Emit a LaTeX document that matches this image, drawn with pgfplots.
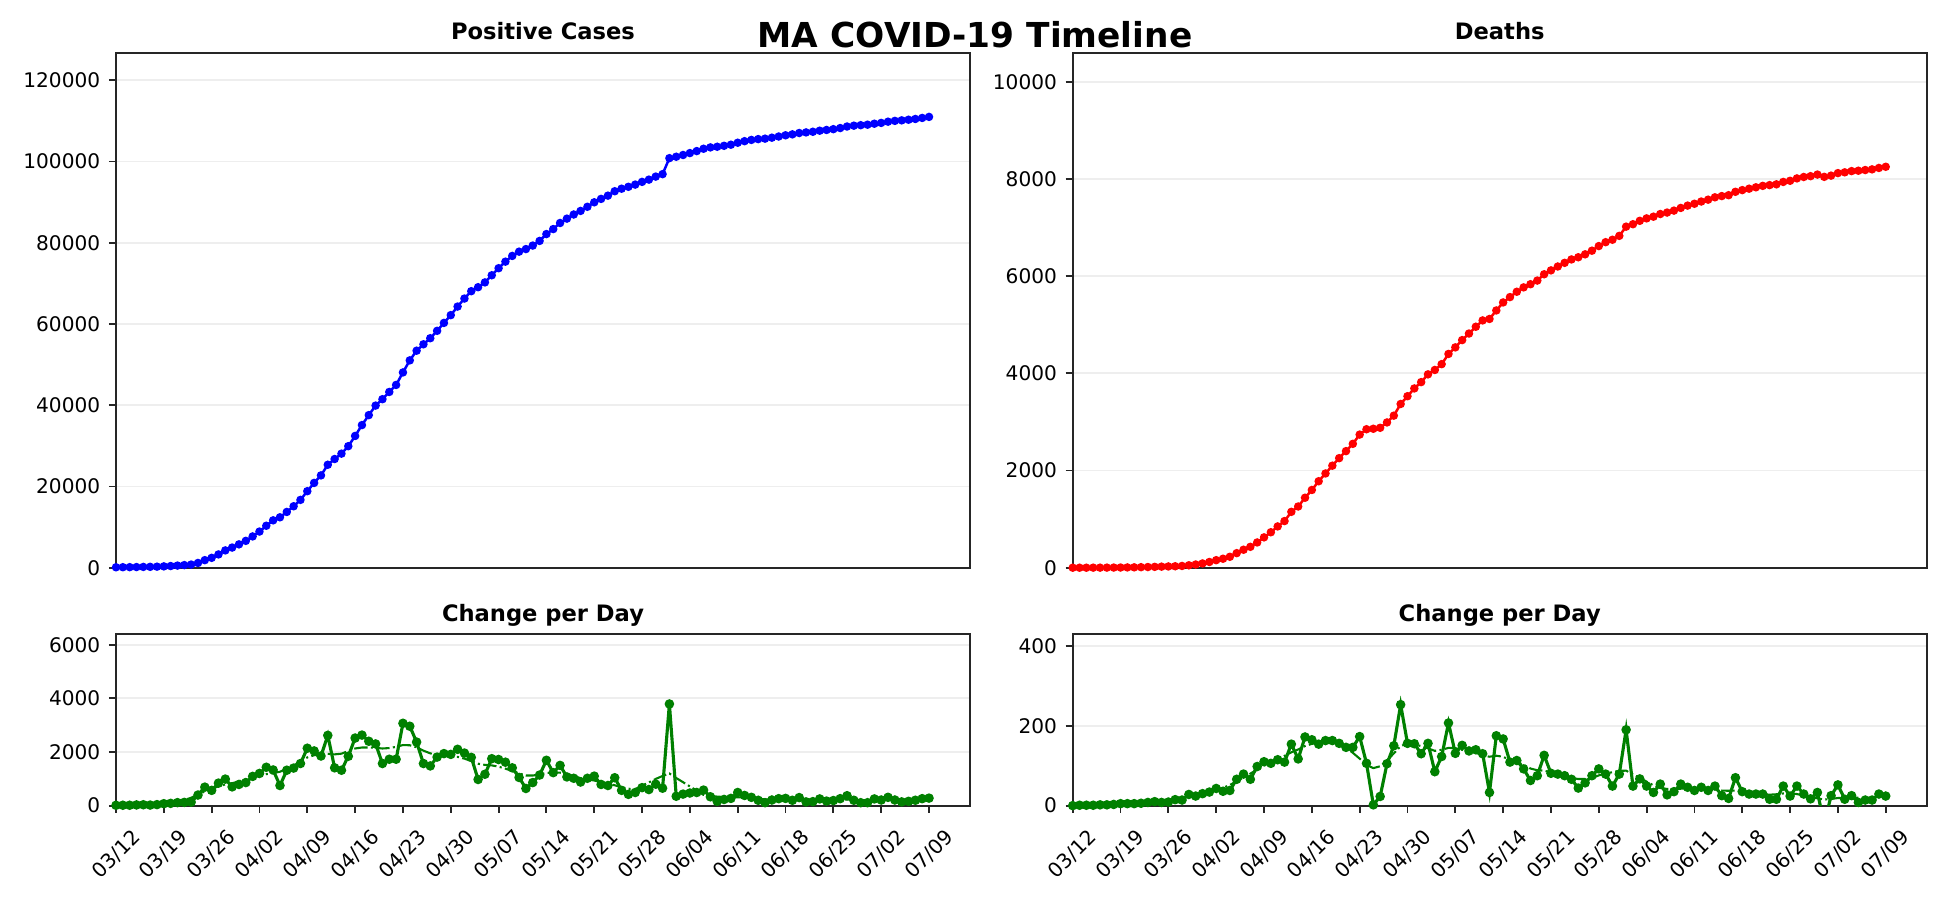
\documentclass[border=0pt]{standalone}
\usepackage{fontspec}
\setmainfont{DejaVu Sans}
\usepackage{pgfplots}
\usepackage{pgfplotstable}
\pgfplotsset{compat=1.18}
\definecolor{mplgreen}{RGB}{0,128,0}
\definecolor{spine}{RGB}{38,38,38}
\definecolor{gridc}{RGB}{238,238,238}

\pgfplotstableread{
d cum daily ma
0 108 13 nan
1 123 15 nan
2 138 15 nan
3 164 26 nan
4 197 33 31
5 218 21 40
6 256 38 53
7 328 72 69
8 413 85 95
9 525 112 143
10 646 121 206
11 777 131 294
12 1172 395 412
13 1862 690 530
14 2432 570 628
15 3272 840 719
16 4262 990 791
17 4962 700 837
18 5752 790 900
19 6612 860 981
20 7702 1090 1046
21 8902 1200 1110
22 10332 1430 1174
23 11662 1330 1214
24 12412 750 1264
25 13732 1320 1371
26 15132 1400 1490
27 16702 1570 1650
28 18842 2140 1797
29 20882 2040 1880
30 22732 1850 1902
31 25352 2620 1931
32 26762 1410 1911
33 28082 1320 1937
34 29922 1840 2035
35 32442 2520 2130
36 35122 2630 2167
37 37572 2400 2167
38 39922 2300 2155
39 41492 1570 2130
40 43272 1730 2147
41 45002 1730 2190
42 48082 3070 2259
43 51052 2960 2250
44 53432 2370 2175
45 55012 1570 2049
46 56502 1480 1950
47 58322 1810 1881
48 60272 1940 1862
49 62192 1910 1845
50 64302 2100 1817
51 66272 1960 1753
52 68082 1800 1661
53 69067 975 1562
54 70247 1170 1519
55 72007 1750 1501
56 73737 1720 1452
57 75357 1620 1379
58 76767 1410 1294
59 77817 1050 1202
60 78457 640 1122
61 79317 860 1122
62 80457 1140 1164
63 82147 1690 1220
64 83377 1230 1233
65 84877 1500 1230
66 85947 1070 1177
67 86967 1020 1104
68 87847 880 1025
69 88867 1020 985
70 89967 1100 936
71 90807 790 875
72 91607 750 813
73 92697 1040 759
74 93317 570 681
75 93787 420 630
76 94327 490 616
77 94997 670 746
78 95547 600 866
79 96297 800 996
80 96897 650 1105
81 100837 3790 1198
82 101187 350 1030
83 101617 430 874
84 102087 470 715
85 102577 490 559
86 103157 580 400
87 103487 330 367
88 103647 160 336
89 103877 230 322
90 104147 270 316
91 104637 490 313
92 105017 380 302
93 105327 310 285
94 105527 200 260
95 105637 110 236
96 105877 210 226
97 106167 260 224
98 106467 270 223
99 106697 200 222
100 107027 300 221
101 107177 140 207
102 107337 150 201
103 107597 250 208
104 107777 170 214
105 107977 190 219
106 108247 260 225
107 108627 370 226
108 108837 200 212
109 108957 110 204
110 109077 110 202
111 109317 250 205
112 109517 210 204
113 109817 310 210
114 110017 210 209
115 110147 140 207
116 110297 160 nan
117 110487 200 nan
118 110737 260 nan
119 110997 280 nan
}\casestab

\pgfplotstableread{
d cum daily ma
0 0 0 nan
1 0 1 nan
2 0 1 nan
3 1 1 nan
4 1 2 2.0
5 2 2 2.6
6 3 3 3.3
7 4 5 4.1
8 6 5 5.0
9 8 5 5.8
10 11 6 6.6
11 14 8 7.6
12 18 10 8.7
13 22 8 10.3
14 26 9 12.4
15 30 15 15.2
16 36 14 18.4
17 50 28 22.6
18 66 24 26.3
19 88 30 29.9
20 118 34 34.2
21 155 43 39.4
22 185 36 44.5
23 225 38 51.7
24 300 66 61.2
25 370 79 70.9
26 430 66 80.2
27 520 98 90.3
28 625 110 100.2
29 730 106 107.5
30 850 115 115.8
31 960 109 124.7
32 1150 154 133.6
33 1260 117 140.7
34 1440 172 149.4
35 1600 165 154.7
36 1780 154 157.3
37 1940 163 157.8
38 2100 163 158.3
39 2255 156 154.7
40 2400 146 145.6
41 2550 146 132.3
42 2740 173 117.7
43 2850 106 101.8
44 2860 2 94.0
45 2880 23 98.6
46 2990 105 113.4
47 3130 150 130.8
48 3370 253 149.3
49 3530 156 155.3
50 3690 155 153.8
51 3820 130 149.0
52 3980 156 143.4
53 4070 85 137.2
54 4190 123 139.9
55 4400 207 144.6
56 4535 131 144.1
57 4685 151 139.7
58 4820 137 136.4
59 4960 140 132.2
60 5090 130 126.2
61 5120 33 122.5
62 5295 175 125.1
63 5460 167 122.2
64 5570 109 114.5
65 5680 113 108.7
66 5770 92 102.3
67 5835 63 93.0
68 5910 75 88.7
69 6040 126 87.7
70 6120 81 82.8
71 6200 79 78.1
72 6275 75 73.8
73 6345 66 69.8
74 6390 44 66.6
75 6450 57 66.8
76 6525 75 69.0
77 6620 92 75.8
78 6700 79 80.3
79 6750 49 83.8
80 6830 79 87.1
81 7020 190 87.6
82 7070 49 78.2
83 7140 67 69.5
84 7190 49 60.1
85 7225 33 50.8
86 7280 54 44.0
87 7310 27 41.9
88 7350 35 41.4
89 7405 54 42.4
90 7453 46 43.0
91 7491 38 42.2
92 7537 46 41.2
93 7575 38 40.4
94 7624 49 39.4
95 7649 25 37.8
96 7667 18 37.2
97 7737 70 37.9
98 7772 35 35.4
99 7801 29 32.3
100 7830 29 30.8
101 7859 29 28.9
102 7875 16 27.4
103 7891 16 28.5
104 7940 49 30.5
105 7964 24 31.0
106 8013 49 29.0
107 8042 29 25.2
108 8059 17 21.8
109 8092 33 18.3
110 8045 -45 15.1
111 8070 25 16.8
112 8122 52 19.1
113 8138 16 18.9
114 8163 25 19.2
115 8171 8 19.9
116 8185 14 nan
117 8199 14 nan
118 8228 29 nan
119 8252 24 nan
}\deathstab

\pgfplotsset{
  base/.style={
    scale only axis, anchor=south west, width=409.92pt,
    xmin=0, xmax=125, ymin=0,
    axis line style={spine, line width=1pt},
    tick align=outside, major tick length=3.4pt,
    tick style={spine, line width=0.9pt},
    tick pos=left,
    ymajorgrids, grid style={gridc, line width=0.9pt},
    scaled y ticks=false,
    yticklabel={\pgfmathprintnumber[fixed,precision=0,1000 sep={},assume math mode=true]{\tick}},
    yticklabel style={font=\fontsize{9.65}{11}\selectfont, anchor=east, inner sep=0pt, xshift=-4pt},
    title style={font=\fontsize{10.85}{13}\selectfont\bfseries, anchor=base, at={(0.5,1)}, yshift=0.2pt},
  },
  toppanel/.style={base, height=247.2pt, xtick=\empty},
  botpanel/.style={base, height=82.4pt,
    xtick={0,7,...,119},
    xticklabels={03/12,03/19,03/26,04/02,04/09,04/16,04/23,04/30,05/07,05/14,05/21,05/28,06/04,06/11,06/18,06/25,07/02,07/09},
    xticklabel style={font=\fontsize{9.65}{11}\selectfont, yshift=-20.1pt, rotate=45, anchor=center, inner sep=0pt},
    title={Change per Day},
  },
}

\begin{document}
\begin{tikzpicture}
\path[use as bounding box] (0pt,0pt) rectangle (936pt,432pt);

\begin{axis}[toppanel, at={(55.68pt,159.5pt)}, ymax=126800, ytick={0,20000,...,120000}, title={Positive Cases}]
\addplot[blue, line width=1.2pt, mark=*, mark size=1.4pt] table[x=d,y=cum]{\casestab};
\end{axis}

\begin{axis}[toppanel, at={(514.9pt,159.5pt)}, ymax=10600, ytick={0,2000,...,10000}, title={Deaths}]
\addplot[red, line width=1.2pt, mark=*, mark size=1.4pt] table[x=d,y=cum]{\deathstab};
\end{axis}

\begin{axis}[botpanel, at={(55.68pt,45.3pt)}, ymax=6400, ytick={0,2000,4000,6000}]
\addplot[mplgreen, line width=1pt, dash pattern=on 6.4pt off 1.6pt on 1pt off 1.6pt] table[x=d,y=ma]{\casestab};
\addplot[mplgreen, line width=1.5pt, mark=*, mark size=1.5pt] table[x=d,y=daily]{\casestab};
\end{axis}

\begin{axis}[botpanel, at={(514.9pt,45.3pt)}, ymax=430, ytick={0,200,400}]
\addplot[mplgreen, line width=1pt, dash pattern=on 6.4pt off 1.6pt on 1pt off 1.6pt] table[x=d,y=ma]{\deathstab};
\addplot[mplgreen, line width=1.5pt, mark=*, mark size=1.5pt] table[x=d,y=daily]{\deathstab};
\end{axis}

\node[font=\fontsize{16.5}{20}\selectfont\bfseries, anchor=base] at (468pt,409.3pt) {MA COVID-19 Timeline};
\end{tikzpicture}
\end{document}
